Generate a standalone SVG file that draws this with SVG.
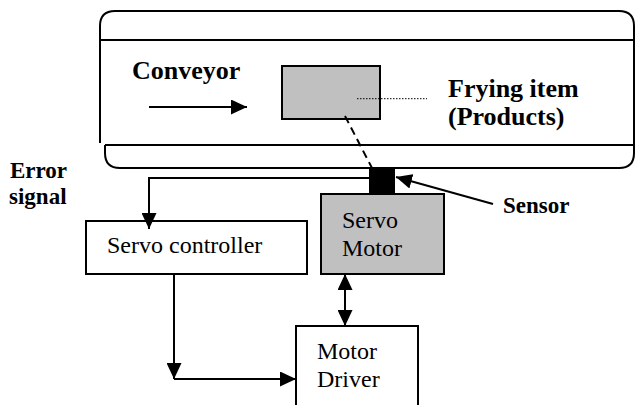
<svg xmlns="http://www.w3.org/2000/svg" width="635" height="405" viewBox="0 0 635 405">
<style>
.ln{fill:none;stroke:#000;stroke-width:2}
.box{fill:#fff;stroke:#000;stroke-width:2}
.gray{fill:#c0c0c0;stroke:#000;stroke-width:2}
text{font-family:'Liberation Serif','Times New Roman',Times,serif;fill:#000}
.t{font-size:24px}
.b{font-weight:bold}
</style>
<defs>
<marker id="ah" markerUnits="userSpaceOnUse" markerWidth="16" markerHeight="15" refX="16" refY="7.5" orient="auto-start-reverse">
<path d="M0,0 L16,7.5 L0,15 z" fill="#000"/>
</marker>
</defs>
<rect width="635" height="405" fill="#fff"/>
<g id="conveyor">
<path class="ln" d="M100,143 V26 Q100,11 115,11 H619 Q634,11 634,26 V145"/>
<path class="ln" d="M100,40 H635"/>
<path class="ln" d="M105,145 H635"/>
<path class="ln" d="M105,145 V153 Q105,168 120,168 H619 Q634,168 634,153 V145"/>
<text class="b" x="132" y="79" font-size="26">Conveyor</text>
</g>
<g id="frying-item">
<rect class="gray" x="282" y="66" width="98" height="53"/>
<text class="b" x="448" y="97" font-size="26">Frying item</text>
<text class="b" x="448" y="125" font-size="26">(Products)</text>
</g>
<g id="sensor">
<rect x="369" y="168" width="26" height="27" fill="#000"/>
<text class="b" x="503" y="213" font-size="23">Sensor</text>
</g>
<g id="error-signal">
<text class="b" x="10" y="178" font-size="23">Error</text>
<text class="b" x="9" y="204" font-size="23">signal</text>
</g>
<g id="servo-motor">
<rect class="gray" x="321" y="194" width="123" height="80"/>
<text class="t" x="342" y="228">Servo</text>
<text class="t" x="342" y="256">Motor</text>
</g>
<g id="servo-controller">
<rect class="box" x="86" y="221" width="221" height="53"/>
<text class="t" x="107" y="253">Servo controller</text>
</g>
<g id="motor-driver">
<rect class="box" x="296" y="326" width="122" height="90"/>
<text class="t" x="317" y="359">Motor</text>
<text class="t" x="317" y="387">Driver</text>
</g>
<g id="connectors">
<path class="ln" d="M149,107 H247" marker-end="url(#ah)"/>
<path d="M357,98.7 H427" fill="none" stroke="#000" stroke-width="1" stroke-dasharray="1.5 1.5"/>
<path d="M345,116 L372,168" fill="none" stroke="#000" stroke-width="2" stroke-dasharray="8 5"/>
<path class="ln" d="M493,204 L396,177" marker-end="url(#ah)"/>
<path class="ln" d="M369,178 H149 V229" marker-end="url(#ah)"/>
<path class="ln" d="M174,274 V379" marker-end="url(#ah)"/>
<path class="ln" d="M174,379 H296" marker-end="url(#ah)"/>
<path class="ln" d="M345,274 V326" marker-start="url(#ah)" marker-end="url(#ah)"/>
</g>
</svg>
